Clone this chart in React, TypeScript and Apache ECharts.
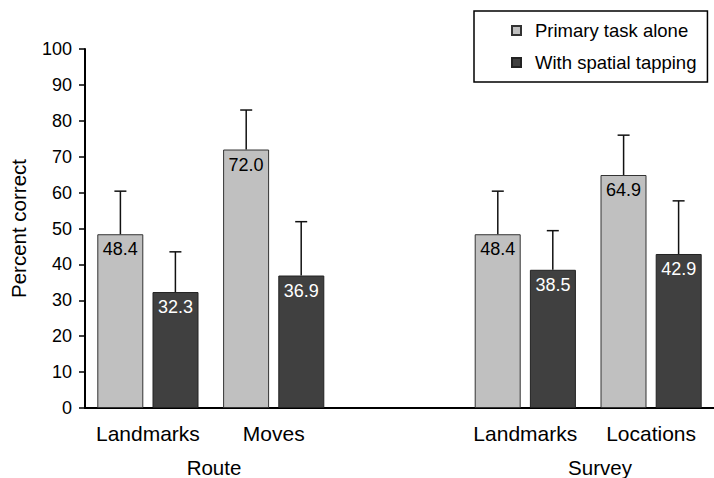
import React, { useEffect, useRef } from "react";
import * as echarts from "echarts";

const categories = ["Landmarks", "Moves", "", "Landmarks", "Locations"];
const primaryAlone: (number | null)[] = [48.4, 72.0, null, 48.4, 64.9];
const withTapping: (number | null)[] = [32.3, 36.9, null, 38.5, 42.9];
const primaryUpper: (number | null)[] = [60.4, 83.0, null, 60.4, 76.0];
const tappingUpper: (number | null)[] = [43.5, 51.9, null, 49.4, 57.7];
const groupLabels = ["Route", "Survey"];
const seriesNames = ["Primary task alone", "With spatial tapping"];

const FONT = "'Liberation Sans', Arial, Helvetica, sans-serif";

function errData(means: (number | null)[], uppers: (number | null)[]) {
  const out: any[] = [];
  means.forEach((m, i) => {
    if (m != null && uppers[i] != null) out.push([i, m, uppers[i]]);
  });
  return out;
}

function errRender(dx: number) {
  return (params: any, api: any) => {
    const base = api.coord([api.value(0), api.value(1)]);
    const top = api.coord([api.value(0), api.value(2)]);
    const x = base[0] + dx;
    const style = { stroke: "#111", lineWidth: 1.5 };
    return {
      type: "group",
      children: [
        { type: "line", shape: { x1: x, y1: base[1], x2: x, y2: top[1] }, style },
        { type: "line", shape: { x1: x - 6, y1: top[1], x2: x + 6, y2: top[1] }, style },
      ],
    };
  };
}

export default function App() {
  const ref = useRef<HTMLDivElement>(null);
  useEffect(() => {
    if (!ref.current) return;
    const chart = echarts.init(ref.current, undefined, { renderer: "svg" });
    const barLabel = (color: string) => ({
      show: true,
      position: "insideTop",
      distance: 6,
      color,
      fontSize: 18,
      fontFamily: FONT,
      formatter: (p: any) => Number(p.value).toFixed(1),
    });
    chart.setOption({
      animation: false,
      backgroundColor: "#fff",
      textStyle: { fontFamily: FONT },
      grid: { left: 84, top: 49, width: 634, height: 359 },
      legend: {
        data: seriesNames,
        orient: "vertical",
        left: 474,
        top: 11,
        padding: [10, 11, 10, 37],
        itemGap: 13,
        itemWidth: 9,
        itemHeight: 9,
        icon: "rect",
        borderColor: "#000",
        borderWidth: 1.5,
        textStyle: { fontSize: 18.5, color: "#000", fontFamily: FONT, padding: [0, 0, 0, 9] },
      },
      xAxis: {
        type: "category",
        data: categories,
        axisLine: { lineStyle: { color: "#000", width: 2 } },
        axisTick: { show: false },
        axisLabel: { color: "#000", fontSize: 21, margin: 15, fontFamily: FONT, interval: 0 },
      },
      yAxis: {
        type: "value",
        min: 0,
        max: 100,
        interval: 10,
        name: "Percent correct",
        nameLocation: "middle",
        nameGap: 56,
        nameTextStyle: { fontSize: 20.5, color: "#000", fontFamily: FONT },
        splitLine: { show: false },
        axisLine: { show: true, lineStyle: { color: "#000", width: 2 } },
        axisTick: { show: true, length: 6, lineStyle: { color: "#000", width: 1.5 } },
        axisLabel: { color: "#000", fontSize: 18, margin: 13, fontFamily: FONT },
      },
      graphic: [
        { type: "text", x: 214, y: 467, style: { text: groupLabels[0], fontSize: 20.5, fontFamily: FONT, fill: "#000", align: "center", verticalAlign: "middle" } },
        { type: "text", x: 600, y: 467, style: { text: groupLabels[1], fontSize: 20.5, fontFamily: FONT, fill: "#000", align: "center", verticalAlign: "middle" } },
      ],
      series: [
        {
          name: seriesNames[0],
          type: "bar",
          data: primaryAlone.map((v) => (v == null ? "-" : v)),
          barWidth: 46,
          barGap: "20%",
          itemStyle: { color: "#c0c0c0", borderColor: "#333", borderWidth: 1 },
          label: barLabel("#000"),
        },
        {
          name: seriesNames[1],
          type: "bar",
          data: withTapping.map((v) => (v == null ? "-" : v)),
          barWidth: 46,
          itemStyle: { color: "#404040", borderColor: "#222", borderWidth: 1 },
          label: barLabel("#fff"),
        },
        {
          name: "err-primary",
          type: "custom",
          data: errData(primaryAlone, primaryUpper),
          encode: { x: 0, y: [1, 2] },
          renderItem: errRender(-27.5),
          z: 5,
          silent: true,
        },
        {
          name: "err-tapping",
          type: "custom",
          data: errData(withTapping, tappingUpper),
          encode: { x: 0, y: [1, 2] },
          renderItem: errRender(27.5),
          z: 5,
          silent: true,
        },
      ],
    });
    return () => chart.dispose();
  }, []);
  return (
    <div
      ref={ref}
      style={{ position: "fixed", left: 0, top: 0, width: 714, height: 478, background: "#fff" }}
    />
  );
}
